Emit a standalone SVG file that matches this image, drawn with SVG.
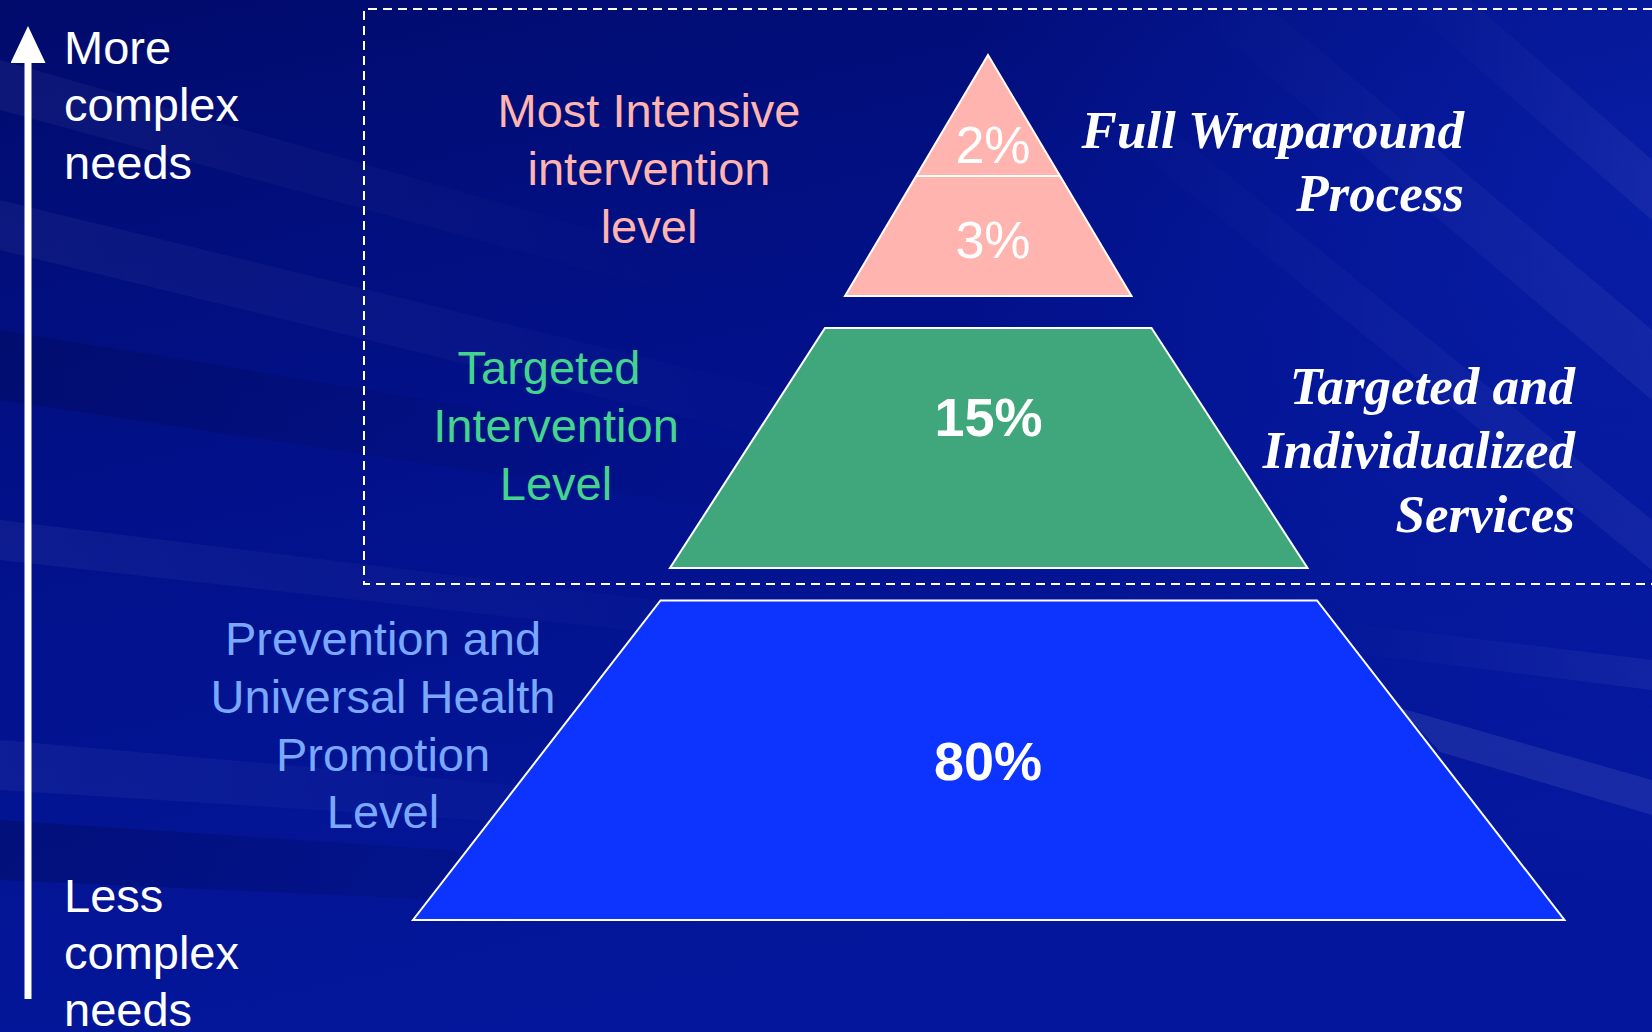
<svg xmlns="http://www.w3.org/2000/svg" width="1652" height="1032" viewBox="0 0 1652 1032">
<defs>
  <linearGradient id="bg" x1="0" y1="0" x2="0.35" y2="1">
    <stop offset="0" stop-color="#010B6C"/>
    <stop offset="0.45" stop-color="#02118A"/>
    <stop offset="1" stop-color="#04179C"/>
  </linearGradient>
  <radialGradient id="glow" cx="1652" cy="200" r="700" gradientUnits="userSpaceOnUse">
    <stop offset="0" stop-color="#0A22B0" stop-opacity="0.7"/>
    <stop offset="1" stop-color="#0A22B0" stop-opacity="0"/>
  </radialGradient>
  <linearGradient id="fadeR" x1="0" y1="0" x2="1" y2="0">
    <stop offset="0" stop-color="#FFFFFF" stop-opacity="0.045"/>
    <stop offset="1" stop-color="#FFFFFF" stop-opacity="0"/>
  </linearGradient>
  <linearGradient id="fadeL" x1="0" y1="0" x2="1" y2="0">
    <stop offset="0" stop-color="#FFFFFF" stop-opacity="0"/>
    <stop offset="1" stop-color="#FFFFFF" stop-opacity="0.05"/>
  </linearGradient>
  <linearGradient id="darkR" x1="0" y1="0" x2="1" y2="0">
    <stop offset="0" stop-color="#000850" stop-opacity="0.35"/>
    <stop offset="1" stop-color="#000850" stop-opacity="0"/>
  </linearGradient>
  <marker id="head" viewBox="0 0 37 35" markerWidth="37" markerHeight="35" refX="0" refY="17.5" orient="auto" markerUnits="userSpaceOnUse">
    <path d="M0,0 L37,17.5 L0,35 Z" fill="#FFFFFF"/>
  </marker>
  <style>
    .sans { font-family: "Liberation Sans", Arial, sans-serif; }
    .serif { font-family: "Liberation Serif", "Times New Roman", serif; font-weight: bold; font-style: italic; font-size: 53px; fill: #FFFFFF; text-anchor: end; }
    .lbl { font-size: 47px; text-anchor: middle; }
    .axis { font-size: 47px; fill: #FFFFFF; }
    .pct { font-size: 52px; fill: #FFFFFF; text-anchor: middle; }
    .pctb { font-size: 54px; font-weight: bold; fill: #FFFFFF; text-anchor: middle; }
    .shape { stroke: #FFFFFF; stroke-width: 2; stroke-linejoin: miter; }
  </style>
</defs>

<g id="background">
  <rect x="0" y="0" width="1652" height="1032" fill="url(#bg)"/>
  <rect x="0" y="0" width="1652" height="1032" fill="url(#glow)"/>
  <polygon fill="url(#fadeR)" points="0,200 0,250 900,470 900,420"/>
  <polygon fill="url(#fadeR)" points="0,520 0,560 900,660 900,630"/>
  <polygon fill="url(#fadeR)" points="0,740 0,790 800,840 800,810"/>
  <polygon fill="url(#fadeR)" points="0,60 0,110 700,300 700,260"/>
  <polygon fill="url(#darkR)" points="0,330 0,400 800,520 800,460"/>
  <polygon fill="url(#darkR)" points="0,820 0,880 900,920 900,880"/>
  <polygon fill="url(#fadeL)" points="1180,0 1260,0 1652,330 1652,400"/>
  <polygon fill="url(#fadeL)" points="1400,0 1470,0 1652,160 1652,220"/>
  <polygon fill="url(#fadeL)" points="1100,120 1160,120 1652,520 1652,570"/>
  <polygon fill="url(#fadeL)" points="1320,620 1652,660 1652,690 1330,650"/>
  <polygon fill="#FFFFFF" fill-opacity="0.08" points="1400,708 1652,780 1652,815 1440,752"/>
</g>

<g id="frame">
  <path d="M1652,9 L364,9 L364,584 L1652,584" fill="none" stroke="#FFFFFF" stroke-width="2" stroke-dasharray="9 6"/>
</g>

<g id="connectors">
  <line x1="28" y1="999" x2="28" y2="63" stroke="#FFFFFF" stroke-width="7" marker-end="url(#head)"/>
</g>

<g id="axis-top">
  <text class="sans axis" x="64" y="64">More</text>
  <text class="sans axis" x="64" y="121">complex</text>
  <text class="sans axis" x="64" y="179">needs</text>
</g>
<g id="axis-bottom">
  <text class="sans axis" x="64" y="912">Less</text>
  <text class="sans axis" x="64" y="969">complex</text>
  <text class="sans axis" x="64" y="1026">needs</text>
</g>

<g id="tier-top">
  <polygon class="shape" fill="#FFB4B0" points="988,55 1131.5,296 845,296"/>
  <line x1="916" y1="176" x2="1060" y2="176" stroke="#FFFFFF" stroke-width="2"/>
  <text class="sans pct" x="993" y="163">2%</text>
  <text class="sans pct" x="993" y="258">3%</text>
</g>

<g id="tier-middle">
  <polygon class="shape" fill="#40A77C" points="825,328 1151.5,328 1307.5,568 670,568"/>
  <text class="sans pctb" x="988.5" y="436">15%</text>
</g>

<g id="tier-bottom">
  <polygon class="shape" fill="#0D33FF" points="660.5,600.5 1317,600.5 1564.5,920 413,920"/>
  <text class="sans pctb" x="988" y="780">80%</text>
</g>

<g id="label-intensive">
  <text class="sans lbl" fill="#FFB4B0" x="649" y="127">Most Intensive</text>
  <text class="sans lbl" fill="#FFB4B0" x="649" y="185">intervention</text>
  <text class="sans lbl" fill="#FFB4B0" x="649" y="243">level</text>
</g>

<g id="label-targeted">
  <text class="sans lbl" fill="#45D48E" x="549" y="384">Targeted</text>
  <text class="sans lbl" fill="#45D48E" x="556" y="442">Intervention</text>
  <text class="sans lbl" fill="#45D48E" x="556" y="500">Level</text>
</g>

<g id="label-prevention">
  <text class="sans lbl" fill="#7AA8FF" x="383" y="655">Prevention and</text>
  <text class="sans lbl" fill="#7AA8FF" x="383" y="713">Universal Health</text>
  <text class="sans lbl" fill="#7AA8FF" x="383" y="771">Promotion</text>
  <text class="sans lbl" fill="#7AA8FF" x="383" y="828">Level</text>
</g>

<g id="label-wraparound">
  <text class="serif" x="1464" y="148">Full Wraparound</text>
  <text class="serif" x="1464" y="211">Process</text>
</g>

<g id="label-individualized">
  <text class="serif" x="1575" y="404">Targeted and</text>
  <text class="serif" x="1575" y="468">Individualized</text>
  <text class="serif" x="1575" y="532">Services</text>
</g>
</svg>
